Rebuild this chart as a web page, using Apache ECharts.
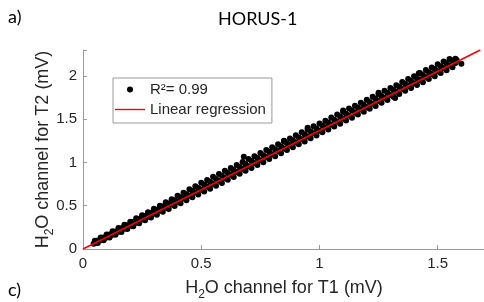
<!DOCTYPE html>
<html><head><meta charset="utf-8">
<script src="https://cdn.jsdelivr.net/npm/echarts@6/dist/echarts.min.js"></script>
<style>html,body{margin:0;padding:0;background:#fff}#c{width:484px;height:302px}</style>
</head><body><div id="c"></div>
<script>
// ---- data ----
const xTicks = [0, 0.5, 1, 1.5];
const yTicks = [0, 0.5, 1, 1.5, 2];
const colAX = [0.05,0.075,0.10,0.125,0.15,0.175,0.20,0.225,0.25,0.275,0.30,0.325,0.35,0.375,0.40,0.425,0.45,0.475,0.50,0.525,0.55,0.575,0.60,0.625,0.65,0.675,0.70,0.725,0.75,0.775,0.80,0.825,0.85,0.875,0.90,0.925,0.95,0.975,1.00,1.025,1.05,1.075,1.10,1.125,1.15,1.175,1.20,1.225,1.25,1.275,1.30,1.325,1.35,1.375,1.40,1.425,1.45,1.475,1.50,1.525,1.55,1.575];
const colAHigh = [0.096,0.132,0.169,0.205,0.243,0.280,0.315,0.355,0.391,0.426,0.466,0.500,0.541,0.575,0.616,0.649,0.690,0.724,0.765,0.797,0.835,0.866,0.904,0.935,0.972,1.006,1.041,1.071,1.109,1.143,1.175,1.212,1.246,1.278,1.315,1.348,1.380,1.418,1.451,1.483,1.520,1.555,1.586,1.623,1.657,1.689,1.726,1.760,1.791,1.829,1.862,1.894,1.931,1.965,1.997,2.034,2.068,2.099,2.134,2.168,2.195,2.200];
const colALow = [0.066,0.100,0.134,0.166,0.200,0.235,0.270,0.304,0.340,0.373,0.409,0.444,0.477,0.514,0.545,0.583,0.615,0.652,0.685,0.721,0.752,0.790,0.821,0.858,0.889,0.927,0.957,0.995,1.026,1.064,1.094,1.132,1.163,1.201,1.231,1.269,1.300,1.338,1.368,1.406,1.437,1.475,1.505,1.543,1.574,1.612,1.642,1.680,1.711,1.749,1.779,1.817,1.848,1.886,1.916,1.954,1.985,2.023,2.053,2.091,2.122,2.150];
const colBX = [0.0625,0.0875,0.1125,0.1375,0.1625,0.1875,0.2125,0.2375,0.2625,0.2875,0.3125,0.3375,0.3625,0.3875,0.4125,0.4375,0.4625,0.4875,0.5125,0.5375,0.5625,0.5875,0.6125,0.6375,0.6625,0.6875,0.7125,0.7375,0.7625,0.7875,0.8125,0.8375,0.8625,0.8875,0.9125,0.9375,0.9625,0.9875,1.0125,1.0375,1.0625,1.0875,1.1125,1.1375,1.1625,1.1875,1.2125,1.2375,1.2625,1.2875,1.3125,1.3375,1.3625,1.3875,1.4125,1.4375,1.4625,1.4875,1.5125,1.5375,1.5625];
const colBHigh = [0.098,0.133,0.168,0.203,0.239,0.275,0.311,0.347,0.382,0.419,0.454,0.490,0.527,0.562,0.598,0.634,0.671,0.706,0.742,0.777,0.809,0.846,0.878,0.914,0.949,0.981,1.017,1.051,1.083,1.120,1.152,1.189,1.221,1.257,1.290,1.325,1.358,1.394,1.426,1.463,1.495,1.531,1.563,1.600,1.632,1.668,1.700,1.737,1.769,1.805,1.837,1.874,1.906,1.942,1.974,2.011,2.043,2.079,2.111,2.148,2.178];
const colBLow = [0.068,0.100,0.132,0.165,0.197,0.231,0.264,0.297,0.331,0.364,0.397,0.431,0.463,0.497,0.530,0.563,0.597,0.630,0.664,0.697,0.732,0.764,0.800,0.832,0.869,0.903,0.935,0.972,1.004,1.040,1.073,1.106,1.143,1.175,1.211,1.243,1.280,1.312,1.348,1.380,1.417,1.449,1.485,1.517,1.554,1.586,1.622,1.654,1.691,1.723,1.759,1.791,1.828,1.860,1.896,1.928,1.965,1.997,2.033,2.065,2.102];
const extraX = [0.045,0.055,0.68,0.85,0.95,1.10,1.25,1.32,1.42,1.58,1.60];
const extraY = [0.062,0.082,1.065,1.250,1.400,1.600,1.805,1.745,2.030,2.185,2.140];
const fitLine = [[0, 0], [1.68, 2.3]];
const legendNames = ['R²= 0.99', 'Linear regression'];

const pts = [];
colAX.forEach((x, i) => { pts.push([x, colAHigh[i]]); pts.push([x, colALow[i]]); });
colBX.forEach((x, i) => { pts.push([x, colBHigh[i]]); pts.push([x, colBLow[i]]); });
extraX.forEach((x, i) => pts.push([x, extraY[i]]));

const FONT = 'Liberation Sans';
const txt = '#262626';
const axisCol = '#9a9a9a';
const rich = {
  a: {fontSize: 18, fontFamily: FONT, color: txt, lineHeight: 22, verticalAlign: 'top'},
  s: {fontSize: 12, fontFamily: FONT, color: txt, lineHeight: 22, verticalAlign: 'bottom'}
};

const chart = echarts.init(document.getElementById('c'), null, {renderer: 'canvas'});
chart.setOption({
  animation: false,
  backgroundColor: '#fff',
  grid: {left: 83, top: 50, width: 402, height: 199, containLabel: false, outerBoundsMode: 'none'},
  xAxis: {
    type: 'value', min: 0, max: 1.7, interval: 0.5,
    axisLine: {lineStyle: {color: axisCol, width: 1}},
    axisTick: {inside: true, length: 4, lineStyle: {color: axisCol}},
    splitLine: {show: false},
    axisLabel: {fontSize: 15, fontFamily: FONT, color: txt, margin: 7,
      formatter: v => xTicks.includes(v) ? String(v) : ''},
    name: '{a|H}{s|2}{a|O channel for T1 (mV)}',
    nameLocation: 'middle', nameGap: 30, nameMoveOverlap: false,
    nameTextStyle: {rich: rich}
  },
  yAxis: {
    type: 'value', min: 0, max: 2.3, interval: 0.5,
    axisLine: {show: true, lineStyle: {color: axisCol, width: 1}},
    axisTick: {show: true, inside: true, length: 4, lineStyle: {color: axisCol}},
    splitLine: {show: false},
    axisLabel: {fontSize: 15, fontFamily: FONT, color: txt, margin: 6,
      formatter: v => yTicks.includes(v) ? String(v) : ''},
    name: '{a|H}{s|2}{a|O channel for T2 (mV)}',
    nameLocation: 'middle', nameGap: 27, nameRotate: 90, nameMoveOverlap: false,
    nameTextStyle: {rich: rich}
  },
  legend: {
    orient: 'vertical', left: 113, top: 78,
    padding: [3, 6, 5, 2], itemGap: 3, itemWidth: 30, itemHeight: 6,
    borderColor: '#9a9a9a', borderWidth: 1, backgroundColor: '#fff',
    textStyle: {fontSize: 15, fontFamily: FONT, color: txt, lineHeight: 17},
    data: [
      {name: legendNames[0]},
      {name: legendNames[1], icon: 'path://M0,0M30,6M0,2.3H30V3.7H0Z', itemStyle: {color: '#ff0000'}}
    ]
  },
  graphic: [
    {type: 'text', left: 218, top: 10, style: {text: 'HORUS-1', font: '18px Lato', fill: '#000'}},
    {type: 'text', left: 8, top: 8, style: {text: 'a)', font: '18px Lato', fill: '#000'}},
    {type: 'text', left: 8, top: 281, style: {text: 'c)', font: '18px Lato', fill: '#000'}}
  ],
  series: [
    {type: 'scatter', name: legendNames[0], data: pts, symbol: 'circle', symbolSize: 6,
      itemStyle: {color: '#000', opacity: 1}, z: 2},
    {type: 'line', name: legendNames[1], data: fitLine, symbol: 'none', showSymbol: false,
      lineStyle: {color: '#ff0000', width: 1.5}, itemStyle: {color: '#ff0000'}, z: 3}
  ]
});
</script></body></html>
